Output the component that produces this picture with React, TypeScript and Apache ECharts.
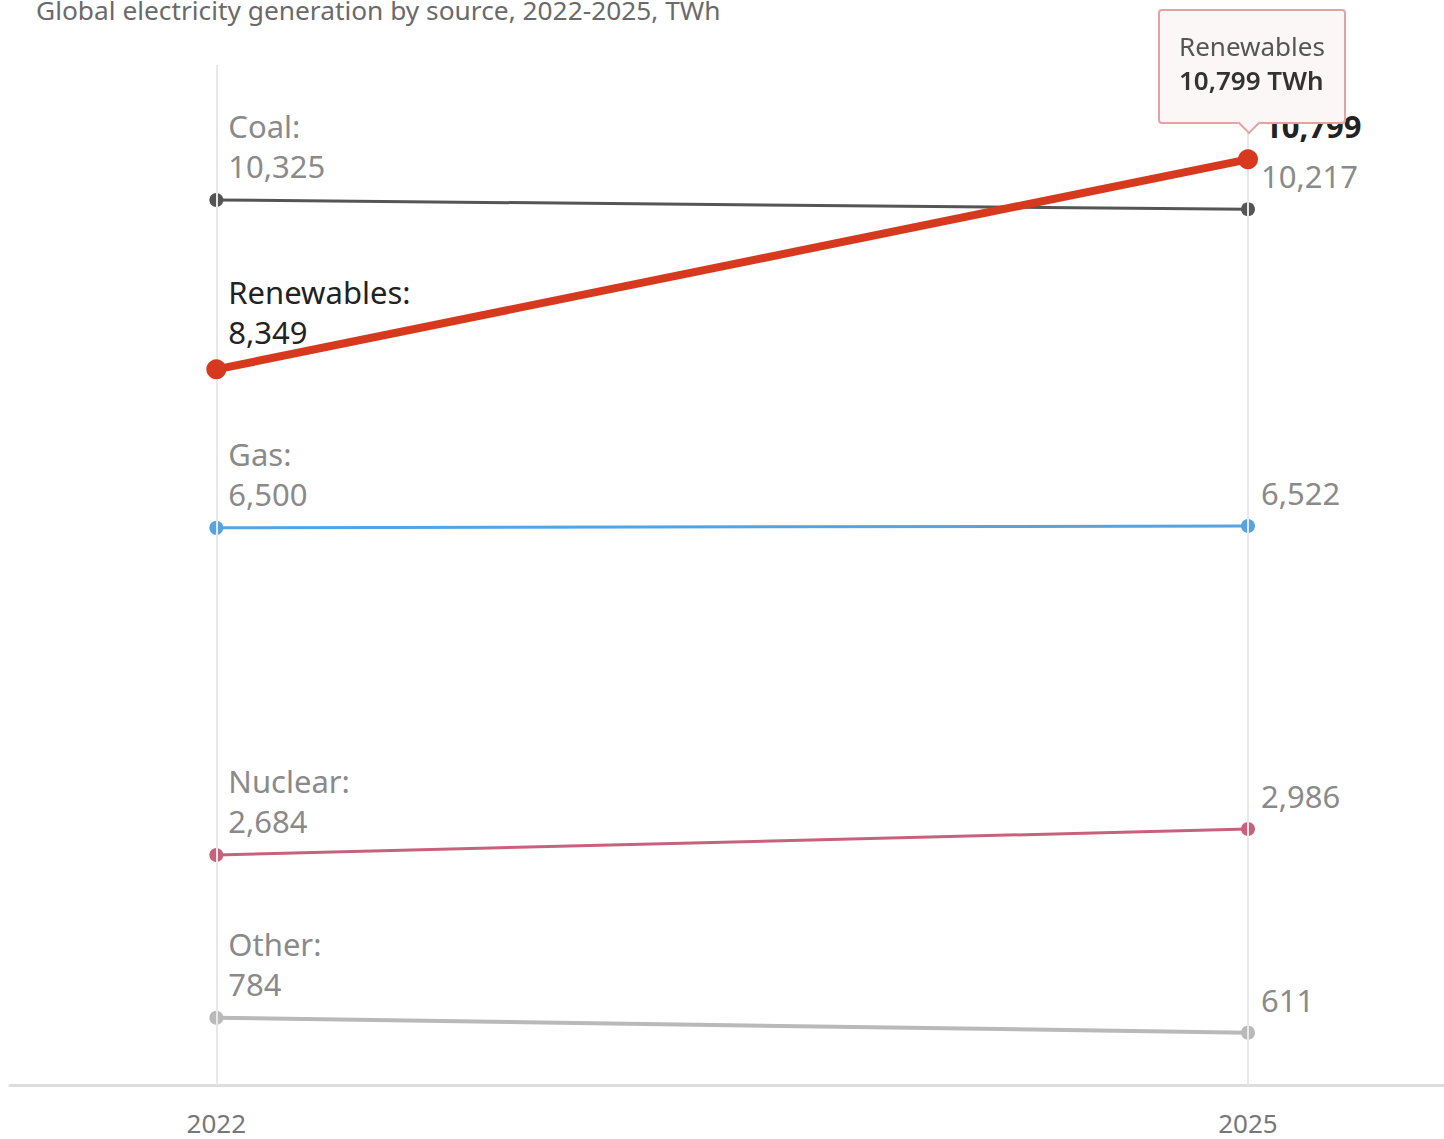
import React, { useEffect, useRef } from "react";
import * as echarts from "echarts";

const years = [2022, 2025];
const sources = ["Coal", "Renewables", "Gas", "Nuclear", "Other"];
const values2022 = [10325, 8349, 6500, 2684, 784];
const values2025 = [10217, 10799, 6522, 2986, 611];
const colors = ["#555555", "#d6391d", "#55a3e0", "#c7627c", "#b9b9b9"];
const lineWidths = [3, 8, 3, 3, 4];
const symbolSizes = [14, 20, 14, 14, 14];
const title = "Global electricity generation by source, 2022-2025, TWh";
const unit = "TWh";
const highlighted = "Renewables";

const FONT = "'Noto Sans', sans-serif";
const fmt = (v: number) => v.toLocaleString("en-US");

const TIP_BG = "#fcf7f7";
const TIP_BORDER = "#e2a3a3";

export default function App() {
  const ref = useRef<HTMLDivElement>(null);
  useEffect(() => {
    document.body.style.margin = "0";
    if (!ref.current) return;
    const chart = echarts.init(ref.current, null, { renderer: "svg" });
    const series = sources.map((name, i) => {
      const isHi = name === highlighted;
      const textColor = isHi ? "#222" : "#8a8a8a";
      return {
        type: "line",
        name,
        z: isHi ? 5 : 2,
        symbol: "circle",
        symbolSize: symbolSizes[i],
        color: colors[i],
        lineStyle: { color: colors[i], width: lineWidths[i] },
        itemStyle: { color: colors[i] },
        emphasis: { disabled: true },
        data: [
          {
            value: [years[0], values2022[i]],
            label: {
              show: true,
              position: "top",
              align: "left",
              offset: [12, -2],
              formatter: `${name}:\n${fmt(values2022[i])}`,
              color: textColor,
              fontSize: 31,
              lineHeight: 40,
              fontFamily: FONT,
            },
          },
          {
            value: [years[1], values2025[i]],
            label: {
              show: true,
              position: "right",
              offset: [1, -33],
              formatter: fmt(values2025[i]),
              color: textColor,
              fontWeight: isHi ? "bold" : "normal",
              fontSize: 31,
              fontFamily: FONT,
            },
          },
        ],
        markLine:
          i === 0
            ? {
                silent: true,
                symbol: ["none", "none"],
                label: { show: false },
                lineStyle: { color: "#e8e8e8", width: 2, type: "solid" },
                data: years.map((y) => ({ xAxis: y })),
              }
            : undefined,
      };
    });
    chart.setOption({
      animation: false,
      textStyle: { fontFamily: FONT },
      title: {
        text: title,
        left: 31,
        top: -8,
        textStyle: { fontSize: 26.3, fontWeight: "normal", color: "#6a6a6a", fontFamily: FONT },
      },
      tooltip: {
        trigger: "item",
        triggerOn: "none",
        alwaysShowContent: true,
        position: (point: number[], _p: any, _d: any, _r: any, size: any) => [
          point[0] - size.contentSize[0] / 2 + 4,
          point[1] - size.contentSize[1] - 35,
        ],
        backgroundColor: TIP_BG,
        borderColor: TIP_BORDER,
        borderWidth: 2,
        padding: [18, 19, 25, 19],
        textStyle: { fontSize: 26, color: "#555", fontFamily: FONT },
        extraCssText: "box-shadow:none;border-radius:4px;line-height:34px;",
        formatter: (p: any) =>
          `${p.seriesName}<br/><span style="color:#333;font-weight:600">${fmt(p.value[1])} ${unit}</span>` +
          `<div style="position:absolute;left:50%;bottom:-9px;width:14px;height:14px;margin-left:-11px;background:${TIP_BG};border-right:2px solid ${TIP_BORDER};border-bottom:2px solid ${TIP_BORDER};transform:rotate(45deg)"></div>`,
      },
      grid: { left: 10, right: 0, top: 65, bottom: 54, containLabel: false },
      xAxis: {
        type: "value",
        min: 2021.4,
        max: 2025.57,
        axisLine: { show: true, lineStyle: { color: "#dddddd", width: 3 } },
        axisTick: { show: false },
        splitLine: { show: false },
        axisLabel: {
          customValues: years,
          formatter: (v: number) => String(v),
          color: "#777",
          fontSize: 26,
          margin: 25,
          fontFamily: FONT,
        },
      },
      yAxis: {
        type: "value",
        min: 0,
        max: 11900,
        show: false,
        splitLine: { show: false },
      },
      series,
    });
    chart.dispatchAction({
      type: "showTip",
      seriesIndex: sources.indexOf(highlighted),
      dataIndex: 1,
    });
    return () => chart.dispose();
  }, []);
  return <div ref={ref} style={{ width: 1444, height: 1139 }} />;
}
